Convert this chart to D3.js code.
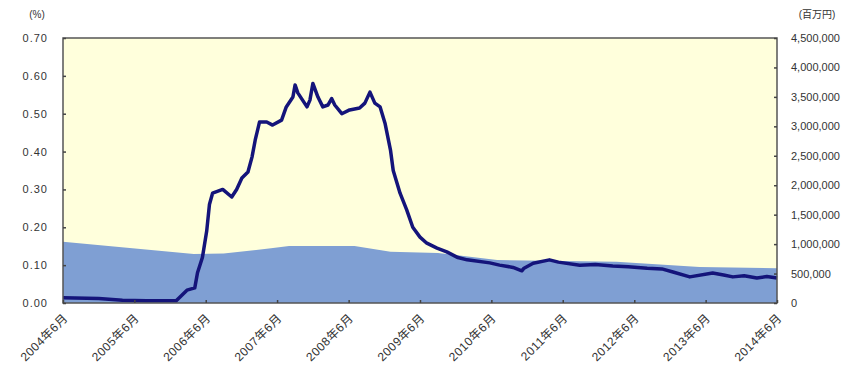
<!DOCTYPE html>
<html><head><meta charset="utf-8">
<script src="https://cdn.jsdelivr.net/npm/d3@7"></script>
<style>
body{margin:0;background:#fff;}
text{font-family:"Liberation Sans","Noto Sans CJK JP",sans-serif;fill:#333;}
</style></head>
<body><svg id="c" width="848" height="376"></svg>
<script>
// Line series: rate (%), left axis
const rateDates = ["2004-06-01","2004-12-01","2005-04-01","2005-08-01","2006-01-01","2006-02-25","2006-04-06","2006-04-20","2006-05-15","2006-06-06","2006-06-20","2006-07-06","2006-08-27","2006-10-12","2006-11-06","2006-12-03","2007-01-03","2007-01-24","2007-02-09","2007-03-03","2007-04-09","2007-05-09","2007-06-24","2007-07-18","2007-08-21","2007-09-01","2007-09-15","2007-11-01","2007-11-16","2007-12-01","2007-12-27","2008-01-21","2008-02-16","2008-03-06","2008-03-22","2008-04-27","2008-06-06","2008-07-27","2008-08-23","2008-09-18","2008-10-13","2008-11-09","2008-12-04","2009-01-01","2009-01-15","2009-02-19","2009-03-25","2009-04-25","2009-06-01","2009-07-06","2009-08-27","2009-10-16","2009-12-12","2010-01-28","2010-05-24","2010-07-13","2010-09-20","2010-11-04","2010-11-15","2011-01-01","2011-03-25","2011-05-10","2011-08-27","2011-11-15","2012-02-12","2012-05-01","2012-08-06","2012-10-20","2012-12-16","2013-03-12","2013-07-07","2013-09-01","2013-10-18","2013-12-15","2014-02-18","2014-04-10","2014-06-01"];
const rateValues = [0.014,0.012,0.007,0.006,0.006,0.034,0.040,0.080,0.120,0.190,0.260,0.290,0.300,0.280,0.300,0.330,0.346,0.386,0.430,0.478,0.478,0.470,0.483,0.518,0.544,0.576,0.555,0.518,0.536,0.580,0.544,0.518,0.523,0.540,0.523,0.500,0.510,0.515,0.528,0.557,0.528,0.518,0.475,0.404,0.350,0.290,0.246,0.200,0.174,0.158,0.145,0.135,0.120,0.114,0.106,0.100,0.094,0.085,0.092,0.105,0.114,0.108,0.100,0.102,0.098,0.096,0.092,0.090,0.082,0.069,0.079,0.074,0.069,0.072,0.066,0.070,0.066];
// Area series: amount (百万円), right axis
const amtDates = ["2004-06-01","2006-04-01","2006-09-01","2007-05-01","2007-08-01","2008-07-01","2009-01-01","2009-09-01","2010-07-01","2012-03-01","2013-05-01","2014-06-01"];
const amtValues = [1040000,830000,840000,930000,970000,970000,870000,850000,730000,700000,610000,590000];
// Axis ticks
const leftTicks = [0,0.1,0.2,0.3,0.4,0.5,0.6,0.7];
const rightTicks = [0,500000,1000000,1500000,2000000,2500000,3000000,3500000,4000000,4500000];
const xTickDates = ["2004-06-01","2005-06-01","2006-06-01","2007-06-01","2008-06-01","2009-06-01","2010-06-01","2011-06-01","2012-06-01","2013-06-01","2014-06-01"];

const parse = d3.timeParse("%Y-%m-%d");
const L = 63, R = 777, T = 38, B = 303;
const svg = d3.select("#c");
const x = d3.scaleTime().domain([parse("2004-06-01"), parse("2014-06-01")]).range([L, R]);
const yL = d3.scaleLinear().domain([0, 0.7]).range([B, T]);
const yR = d3.scaleLinear().domain([0, 4500000]).range([B, T]);

svg.append("rect").attr("x", L).attr("y", T).attr("width", R - L).attr("height", B - T).attr("fill", "#ffffdc");

const amt = amtDates.map((d, i) => ({d: parse(d), v: amtValues[i]}));
svg.append("path").datum(amt)
  .attr("d", d3.area().x(p => x(p.d)).y0(B).y1(p => yR(p.v)))
  .attr("fill", "#7f9fd3");

const rate = rateDates.map((d, i) => ({d: parse(d), v: rateValues[i]}));
svg.append("path").datum(rate)
  .attr("d", d3.line().x(p => x(p.d)).y(p => yL(p.v)))
  .attr("fill", "none").attr("stroke", "#14147a").attr("stroke-width", 3.5).attr("stroke-linejoin", "round");

// frame
svg.append("rect").attr("x", L).attr("y", T).attr("width", R - L).attr("height", B - T)
  .attr("fill", "none").attr("stroke", "#555").attr("stroke-width", 1.5);

const fmtL = d3.format(".2f");
const gl = svg.append("g").attr("transform", `translate(${L},0)`)
  .call(d3.axisLeft(yL).tickValues(leftTicks).tickSize(-3).tickPadding(15).tickFormat(fmtL));
const gr = svg.append("g").attr("transform", `translate(${R},0)`)
  .call(d3.axisRight(yR).tickValues(rightTicks).tickSize(-3).tickPadding(14).tickFormat(d3.format(",")));
const gb = svg.append("g").attr("transform", `translate(0,${B})`)
  .call(d3.axisBottom(x).tickValues(xTickDates.map(parse)).tickSize(-3).tickFormat(d => d3.timeFormat("%Y")(d) + "年6月"));
[gl, gr, gb].forEach(g => {
  g.select(".domain").remove();
  g.selectAll(".tick line").attr("stroke", "#444").attr("stroke-width", 1.5);
  g.selectAll("text").style("font-size", "11px").attr("fill", "#333").attr("font-family", null);
});
gl.selectAll("text").style("letter-spacing", "1px");
gb.selectAll("text").style("font-size", "12px").style("letter-spacing", "0.5px")
  .attr("text-anchor", "end").attr("dy", 0)
  .attr("transform", "translate(5,16) rotate(-45)").attr("y", 0).attr("x", 0);

svg.append("text").attr("x", 37).attr("y", 18).style("font-size", "10px").attr("text-anchor", "middle").text("(%)");
svg.append("text").attr("x", 817).attr("y", 18).style("font-size", "10px").attr("text-anchor", "middle").text("(百万円)");
</script></body></html>
